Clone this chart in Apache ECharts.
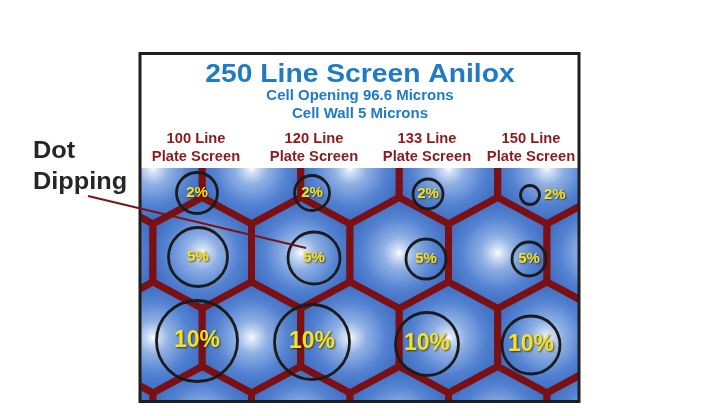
<!DOCTYPE html>
<html>
<head>
<meta charset="utf-8">
<script src="https://cdn.jsdelivr.net/npm/echarts@6/dist/echarts.min.js"></script>
<style>
  html, body { margin: 0; padding: 0; background: #fff; }
  #main { width: 714px; height: 416px; }
</style>
</head>
<body>
<div id="main"></div>
<script>
// plate screens across, dot tones down
const screens = ['100 Line', '120 Line', '133 Line', '150 Line'];
const dotLevels = ['2%', '5%', '10%'];
// dot centres and diameters (px)
const dotX = [[197, 312, 428, 530], [198, 314, 426, 529], [197, 312, 427, 531]];
const dotY = [[193, 193, 194, 195], [257, 258, 259, 259], [341, 342, 344, 345]];
const dotSize = [[41, 35, 30, 19], [59, 52, 40, 34], [81, 75, 63, 58]];

// anilox cell pattern (px)
const cellW = 98.5, cellSide = 58, cellCap = 26.5;
const hexRows = [168.5, 253, 337.5, 422];

let hexData = [];
hexRows.forEach(function (cy, r) {
    let x0 = r % 2 === 0 ? 153 : 202.25;
    for (let k = -2; k <= 5; k++) {
        hexData.push([x0 + cellW * k, cy]);
    }
});

let dotData = [];
dotLevels.forEach(function (lvl, i) {
    screens.forEach(function (s, j) {
        let big = lvl === '10%';
        dotData.push({
            name: lvl,
            value: [dotX[i][j], dotY[i][j], dotSize[i][j]],
            label: {
                position: (i === 0 && j === 3) ? 'right' : 'inside',
                distance: 3,
                fontSize: big ? 23 : 15
            }
        });
    });
});

let myChart = echarts.init(document.getElementById('main'));

const font = 'Liberation Sans, Arial, sans-serif';
const red = '#8a1a1c';
const blue = '#1f7bc4';

function txt(text, x, y, size, color, sx, align) {
    return {
        type: 'text', z: 100, x: x, y: y + 2, scaleX: sx,
        style: {
            text: text, fill: color, font: 'bold ' + size + 'px ' + font,
            textAlign: align || 'center', textVerticalAlign: 'middle'
        }
    };
}

let graphics = [
    {
        type: 'rect', z: 100,
        shape: { x: 140, y: 53.5, width: 439, height: 348 },
        style: { fill: null, stroke: '#1e1e1e', lineWidth: 3 }
    },
    txt('250 Line Screen Anilox', 360, 73, 25, blue, 1.13),
    txt('Cell Opening 96.6 Microns', 360, 94, 14, blue, 1.07),
    txt('Cell Wall 5 Microns', 360, 112, 14, blue, 1.07),
    txt('Dot', 33, 150, 23, '#262626', 1.1, 'left'),
    txt('Dipping', 33, 181, 23, '#262626', 1.1, 'left'),
    {
        type: 'line', z: 100,
        shape: { x1: 88, y1: 196, x2: 306, y2: 248 },
        style: { stroke: '#7a1418', lineWidth: 2 }
    }
];

screens.forEach(function (s, j) {
    let cx = [196, 314, 427, 531][j];
    graphics.push(txt(s, cx, 137, 14, red, 1.05));
    graphics.push(txt('Plate Screen', cx, 155, 14, red, 1.05));
});

myChart.setOption({
    animation: false,
    backgroundColor: '#fff',
    grid: { left: 141, top: 168, width: 437, height: 232 },
    xAxis: { type: 'value', min: 141, max: 578, show: false },
    yAxis: { type: 'value', min: 168, max: 400, inverse: true, show: false },
    graphic: graphics,
    series: [
        {
            type: 'custom',
            clip: true,
            z: 1,
            silent: true,
            data: hexData,
            renderItem: function (params, api) {
                let cx = api.value(0), cy = api.value(1);
                let hw = cellW / 2, hs = cellSide / 2;
                let pts = [
                    [cx, cy - hs - cellCap], [cx + hw, cy - hs], [cx + hw, cy + hs],
                    [cx, cy + hs + cellCap], [cx - hw, cy + hs], [cx - hw, cy - hs]
                ].map(function (p) { return api.coord(p); });
                return {
                    type: 'polygon',
                    shape: { points: pts },
                    style: {
                        fill: {
                            type: 'radial', x: 0.5, y: 0.5, r: 0.62,
                            colorStops: [
                                { offset: 0, color: '#fbfdff' },
                                { offset: 0.07, color: '#d5e2f6' },
                                { offset: 0.25, color: '#8fb0e4' },
                                { offset: 0.55, color: '#5583d2' },
                                { offset: 1, color: '#2d5db6' }
                            ]
                        },
                        stroke: '#7b0f12',
                        lineWidth: 7,
                        lineJoin: 'miter'
                    }
                };
            }
        },
        {
            type: 'scatter',
            z: 3,
            symbol: 'circle',
            symbolSize: function (val) { return val[2]; },
            itemStyle: { color: 'rgba(0,0,0,0)', borderColor: '#1b1b1b', borderWidth: 2.8, opacity: 1 },
            label: {
                show: true,
                formatter: '{b}',
                color: '#f6e21e',
                fontWeight: 'bold',
                fontFamily: font,
                textShadowColor: 'rgba(40,30,0,0.75)',
                textShadowBlur: 2,
                textShadowOffsetX: 1,
                textShadowOffsetY: 1
            },
            emphasis: { disabled: true },
            data: dotData
        }
    ]
});
</script>
</body>
</html>
